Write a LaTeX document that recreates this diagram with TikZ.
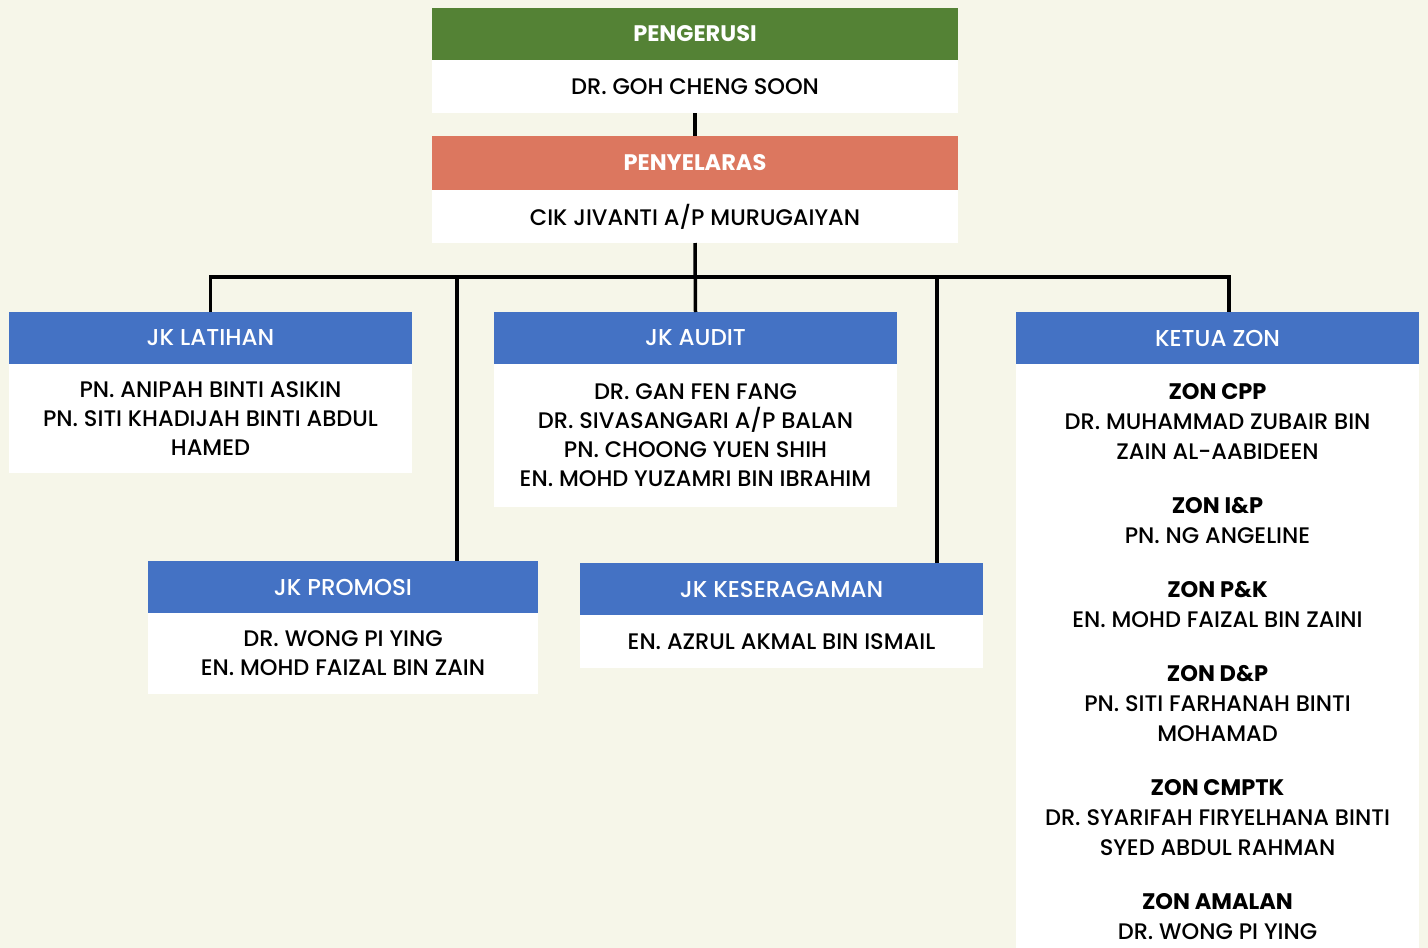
\documentclass[tikz,border=0pt]{standalone}
\usepackage{fontspec}
\setmainfont{Poppins}[UprightFont=* Medium,BoldFont=* Bold]
\definecolor{bg}{HTML}{F6F6E9}
\definecolor{cgreen}{HTML}{548235}
\definecolor{csalmon}{HTML}{DC775F}
\definecolor{cblue}{HTML}{4472C4}
\begin{document}
\begin{tikzpicture}[x=1pt,y=-1pt,
  box/.style={rectangle,inner sep=0pt,outer sep=0pt,anchor=north west,align=center},
  hdr/.style={box,text=white,font=\fontsize{23}{29}\selectfont},
  hdrb/.style={hdr,font=\fontsize{22.5}{29}\selectfont\bfseries},
  bdy/.style={box,fill=white,text=black,font=\fontsize{22.5}{29}\selectfont},
  conn/.style={draw=black,line width=3.5pt}]
\fill[bg] (0,0) rectangle (1428,948);
\useasboundingbox (0,0) rectangle (1428,948);
% top
\node[hdrb,fill=cgreen,minimum width=526pt,minimum height=52pt] (chh) at (432,8) {PENGERUSI};
\node[bdy,minimum width=526pt,minimum height=53pt] (chb) at (432,60) {DR. GOH CHENG SOON};
\node[hdrb,fill=csalmon,minimum width=526pt,minimum height=54pt] (penh) at (432,136) {PENYELARAS};
\node[bdy,minimum width=526pt,minimum height=53pt] (penb) at (432,190) {CIK JIVANTI A/P MURUGAIYAN};
% committees
\node[hdr,fill=cblue,minimum width=403pt,minimum height=52pt] (lath) at (9,312) {JK LATIHAN};
\node[bdy,minimum width=403pt,minimum height=109pt] (latb) at (9,364) {PN. ANIPAH BINTI ASIKIN\\PN. SITI KHADIJAH BINTI ABDUL\\HAMED};
\node[hdr,fill=cblue,minimum width=403pt,minimum height=52pt] (audh) at (494,312) {JK AUDIT};
\node[bdy,minimum width=403pt,minimum height=143pt] (audb) at (494,364) {DR. GAN FEN FANG\\DR. SIVASANGARI A/P BALAN\\PN. CHOONG YUEN SHIH\\EN. MOHD YUZAMRI BIN IBRAHIM};
\node[hdr,fill=cblue,minimum width=390pt,minimum height=52pt] (proh) at (148,561) {JK PROMOSI};
\node[bdy,minimum width=390pt,minimum height=81pt] (prob) at (148,613) {DR. WONG PI YING\\EN. MOHD FAIZAL BIN ZAIN};
\node[hdr,fill=cblue,minimum width=403pt,minimum height=52pt] (kesh) at (580,563) {JK KESERAGAMAN};
\node[bdy,minimum width=403pt,minimum height=53pt] (kesb) at (580,615) {EN. AZRUL AKMAL BIN ISMAIL};
\node[hdr,fill=cblue,minimum width=403pt,minimum height=52pt] (zonh) at (1016,312) {KETUA ZON};
\node[bdy,minimum width=403pt,minimum height=590pt] (zonb) at (1016,364) {};
\node[box,anchor=north,text=black,font=\fontsize{22.5}{29.9}\selectfont] (zont) at (1217.5,383.5)
 {\textbf{ZON CPP}\\DR. MUHAMMAD ZUBAIR BIN\\ZAIN AL-AABIDEEN\\[24.3pt]
  \textbf{ZON I\&P}\\PN. NG ANGELINE\\[24.3pt]
  \textbf{ZON P\&K}\\EN. MOHD FAIZAL BIN ZAINI\\[24.3pt]
  \textbf{ZON D\&P}\\PN. SITI FARHANAH BINTI\\MOHAMAD\\[24.3pt]
  \textbf{ZON CMPTK}\\DR. SYARIFAH FIRYELHANA BINTI\\SYED ABDUL RAHMAN\\[24.3pt]
  \textbf{ZON AMALAN}\\DR. WONG PI YING};
% connectors
\coordinate (bus) at (694,277);
\coordinate (pj) at (457,561);
\coordinate (kj) at (937,563);
\coordinate (zj) at (1229,312);
\draw[conn] (chb.south) -- (penh.north);
\draw[conn] (penb.south) -- (audh.north);
\draw[conn] (lath.north) -- (lath.north |- bus) -- (zj |- bus) -- (zj);
\draw[conn] (pj) -- (pj |- bus);
\draw[conn] (kj) -- (kj |- bus);
\end{tikzpicture}
\end{document}
